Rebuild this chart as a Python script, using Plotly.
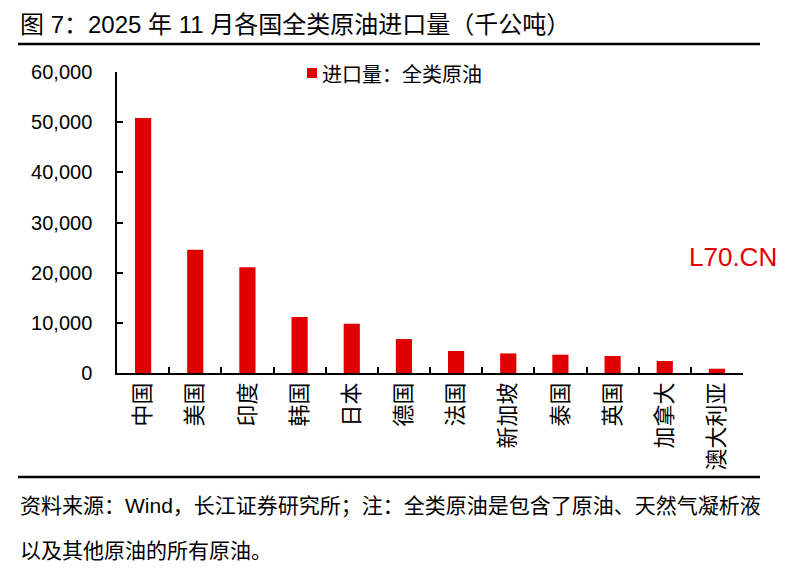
import plotly.graph_objects as go

countries = ["中国", "美国", "印度", "韩国", "日本", "德国", "法国", "新加坡", "泰国", "英国", "加拿大", "澳大利亚"]
imports = [50850, 24560, 21100, 11150, 9820, 6770, 4380, 3900, 3650, 3390, 2390, 860]
series_name = "进口量：全类原油"
y_ticks = [0, 10000, 20000, 30000, 40000, 50000, 60000]
y_tick_text = ["0", "10,000", "20,000", "30,000", "40,000", "50,000", "60,000"]

title_text = "图 7：2025 年 11 月各国全类原油进口量（千公吨）"
note_line1 = "资料来源：Wind，长江证券研究所；注：全类原油是包含了原油、天然气凝析液"
note_line2 = "以及其他原油的所有原油。"

FONT = "Liberation Sans, Arial, Noto Sans CJK SC, sans-serif"
CJK = "Noto Sans CJK SC, sans-serif"
RED = "#E00000"

W, H = 785, 571
L, R, T, B = 117, 42, 72, 198
PW, PH = W - L - R, H - T - B

def px(x):
    return (x - L) / PW

def py(y):
    return (H - B - y) / PH

fig = go.Figure()
fig.add_trace(go.Bar(
    x=countries, y=imports, name=series_name,
    marker=dict(color=RED, line=dict(width=0)),
    showlegend=False,
))

fig.update_layout(
    width=W, height=H,
    margin=dict(l=L, r=R, t=T, b=B, pad=0),
    paper_bgcolor="white", plot_bgcolor="white",
    font=dict(family=FONT, size=18, color="black"),
    bargap=0.69,
    xaxis=dict(
        type="category",
        showline=True, linecolor="black", linewidth=1.5,
        ticks="inside", tickson="boundaries", ticklen=6, tickcolor="black", tickwidth=1.5,
        tickangle=-90,
        tickfont=dict(size=22, family=CJK),
        showgrid=False, zeroline=False,
        ticklabelstandoff=-1,
    ),
    yaxis=dict(
        range=[0, 60000],
        tickvals=y_ticks, ticktext=y_tick_text,
        showline=True, linecolor="black", linewidth=1.5,
        ticks="inside", ticklen=6, tickcolor="black", tickwidth=1.5,
        tickfont=dict(size=20, family=FONT),
        showgrid=False, zeroline=False,
        ticklabelstandoff=19,
    ),
)

# legend (custom key: red square + label)
fig.add_shape(type="rect", xref="paper", yref="paper",
              x0=px(307), x1=px(317), y0=py(68), y1=py(78),
              fillcolor=RED, line=dict(width=0))
fig.add_annotation(
    text=series_name, xref="paper", yref="paper",
    x=px(320), y=py(73), xanchor="left", yanchor="middle",
    showarrow=False, font=dict(size=20, family=CJK, color="black"),
)

# title
fig.add_annotation(
    text=title_text, xref="paper", yref="paper",
    x=px(18), y=py(24), xanchor="left", yanchor="middle",
    showarrow=False, font=dict(size=24, family=FONT, color="black"),
)
# top and bottom rules
fig.add_shape(type="line", xref="paper", yref="paper",
              x0=px(18), x1=px(760), y0=py(44), y1=py(44),
              line=dict(color="black", width=2.5))
fig.add_shape(type="line", xref="paper", yref="paper",
              x0=px(18), x1=px(760), y0=py(477), y1=py(477),
              line=dict(color="black", width=2.5))
# footer notes
fig.add_annotation(
    text=note_line1, xref="paper", yref="paper",
    x=px(18), y=py(506), xanchor="left", yanchor="middle",
    showarrow=False, font=dict(size=21, family=FONT, color="black"),
)
fig.add_annotation(
    text=note_line2, xref="paper", yref="paper",
    x=px(18), y=py(550), xanchor="left", yanchor="middle",
    showarrow=False, font=dict(size=21, family=FONT, color="black"),
)
# watermark
fig.add_annotation(
    text="L70.CN", xref="paper", yref="paper",
    x=px(687), y=py(257), xanchor="left", yanchor="middle",
    showarrow=False, font=dict(size=26, family=FONT, color=RED),
)

fig.write_html("out.html", config={"displayModeBar": False},
               post_script="document.body.style.margin='0';")
